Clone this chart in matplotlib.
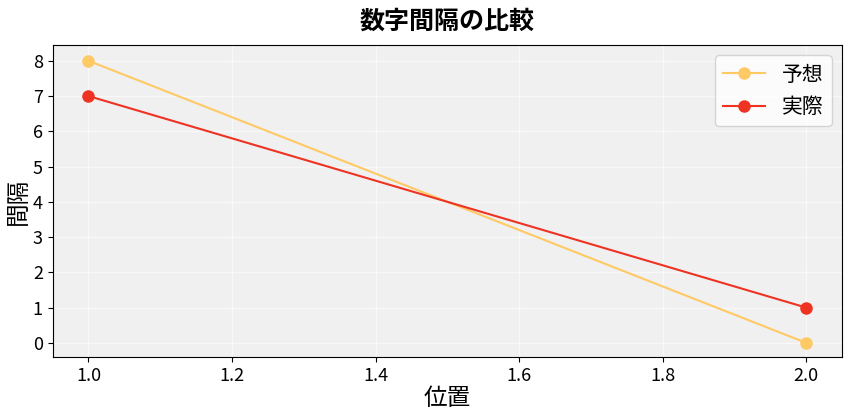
import matplotlib
matplotlib.use("Agg")
import matplotlib.pyplot as plt

plt.rcParams["font.family"] = "Noto Sans CJK JP"

x = [1.0, 2.0]
yosou = [8, 0]
jissai = [7, 1]

fig = plt.figure(figsize=(8.48, 4.16), dpi=100)
ax = fig.add_axes([0.062, 0.142, 0.931, 0.75])
ax.set_facecolor("#f0f0f0")
ax.grid(True, color="white", linewidth=1, alpha=0.6)
ax.plot(x, yosou, "-o", color="#ffc965", markersize=8, linewidth=1.5, label="予想")
ax.plot(x, jissai, "-o", color="#ee3322", markersize=8, linewidth=1.5, label="実際")
ax.set_title("数字間隔の比較", fontsize=18, fontweight="bold", pad=12)
ax.set_xlabel("位置", fontsize=17, labelpad=2)
ax.set_ylabel("間隔", fontsize=17, labelpad=2)
ax.tick_params(labelsize=13)
ax.set_yticks(range(0, 9))
ax.set_xlim(0.95, 2.05)
ax.set_ylim(-0.4, 8.45)
for s in ax.spines.values():
    s.set_color("black")
ax.legend(fontsize=15, loc="upper right")
fig.savefig("out.png", dpi=100)
